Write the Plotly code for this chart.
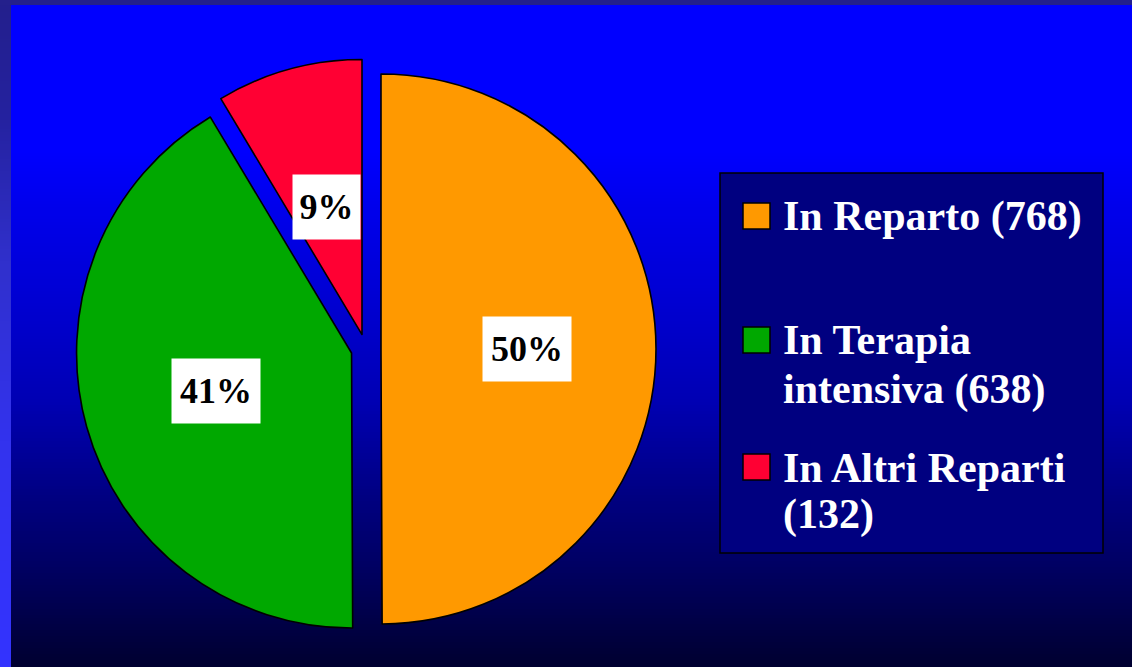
import numpy as np
import plotly.graph_objects as go

# ---------------- data ----------------
labels = ["In Reparto", "In Terapia intensiva", "In Altri Reparti"]
counts = [768, 638, 132]
slice_colors = ["#FF9900", "#00A800", "#FF0033"]
# legend text lines (wrapped as in the original slide)
legend_lines = [
    [f"In Reparto ({counts[0]})"],
    ["In Terapia", f"intensiva ({counts[1]})"],
    ["In Altri Reparti", f"({counts[2]})"],
]

# ---------------- geometry / style ----------------
W, H = 1132, 667
FONT = "Liberation Serif, Times New Roman, serif"


def fx(x):
    return x / W


def fy(y):
    return 1 - y / H


CX, CY = 366, 349       # pie centre (px)
R = 275                 # pie radius (px)
PULL_PX = 15
pull = PULL_PX / R
half = R * (1 + pull)

fig = go.Figure()
fig.add_trace(go.Pie(
    labels=labels,
    values=counts,
    sort=False,
    direction="clockwise",
    rotation=0,
    pull=[pull] * len(counts),
    marker=dict(colors=slice_colors, line=dict(color="black", width=1.6)),
    textinfo="none",
    hoverinfo="label+value+percent",
    showlegend=False,
    domain=dict(x=[fx(CX - half), fx(CX + half)],
                y=[fy(CY + half), fy(CY - half)]),
))

shapes = []

# background vertical gradient (main area)
bg_y = [0, 150, 200, 320, 400, 500, 560, 667]
bg_b = [255, 255, 238, 205, 180, 128, 102, 48]
step = 3
for y0 in range(0, H, step):
    b = int(np.interp(y0 + step / 2, bg_y, bg_b))
    shapes.append(dict(type="rect", xref="paper", yref="paper", layer="below",
                       x0=0, x1=1, y0=fy(y0 + step + 0.5), y1=fy(y0),
                       fillcolor=f"rgb(0,0,{b})", line=dict(width=0)))

# left stripe gradient
st_y = [0, 120, 260, 440, 667]
st_c = [(35, 31, 140), (37, 34, 160), (48, 48, 204), (51, 51, 238), (51, 51, 255)]
for y0 in range(0, H, step):
    ym = y0 + step / 2
    c = [int(np.interp(ym, st_y, [s[i] for s in st_c])) for i in range(3)]
    shapes.append(dict(type="rect", xref="paper", yref="paper", layer="below",
                       x0=0, x1=fx(11), y0=fy(y0 + step + 0.5), y1=fy(y0),
                       fillcolor=f"rgb({c[0]},{c[1]},{c[2]})", line=dict(width=0)))
# top stripe
shapes.append(dict(type="rect", xref="paper", yref="paper", layer="below",
                   x0=0, x1=1, y0=fy(5), y1=1,
                   fillcolor="rgb(36,32,140)", line=dict(width=0)))

# legend box
shapes.append(dict(type="rect", xref="paper", yref="paper", layer="above",
                   x0=fx(720), x1=fx(1103), y0=fy(553), y1=fy(173),
                   fillcolor="#000080", line=dict(color="black", width=1.5)))

annotations = []

# legend swatches + text
sw_top = [203, 327, 454]
line_mid = [[216.5], [340, 389], [467.5, 514.5]]
for i in range(len(labels)):
    shapes.append(dict(type="rect", xref="paper", yref="paper", layer="above",
                       x0=fx(743), x1=fx(770), y0=fy(sw_top[i] + 26), y1=fy(sw_top[i]),
                       fillcolor=slice_colors[i], line=dict(color="black", width=1.5)))
    for txt, ym in zip(legend_lines[i], line_mid[i]):
        annotations.append(dict(xref="paper", yref="paper", x=fx(781), y=fy(ym),
                                xanchor="left", yanchor="middle", showarrow=False,
                                text=f"<b>{txt}</b>",
                                font=dict(family=FONT, size=42, color="white")))

# percentage labels in white boxes
total = sum(counts)
label_frac = [0.53, 0.51, 0.48]
cum = 0.0
for i, v in enumerate(counts):
    a0 = cum / total * 360
    cum += v
    a1 = cum / total * 360
    mid = np.radians((a0 + a1) / 2)
    d = (pull + label_frac[i]) * R
    lx = CX + d * np.sin(mid)
    ly = CY - d * np.cos(mid)
    pct = round(v / total * 100)
    annotations.append(dict(xref="paper", yref="paper", x=fx(lx), y=fy(ly),
                            xanchor="center", yanchor="middle", showarrow=False,
                            text=f"<b>{pct}%</b>",
                            font=dict(family=FONT, size=36, color="black"),
                            bgcolor="white", borderpad=0,
                            width=88 if pct >= 10 else 67, height=64))

fig.update_layout(
    width=W, height=H,
    margin=dict(l=0, r=0, t=0, b=0),
    paper_bgcolor="#000033",
    plot_bgcolor="rgba(0,0,0,0)",
    shapes=shapes,
    annotations=annotations,
    showlegend=False,
)

fig.write_html(
    "out.html",
    config={"displayModeBar": False},
    post_script="document.body.style.margin='0';document.body.style.overflow='hidden';",
)
